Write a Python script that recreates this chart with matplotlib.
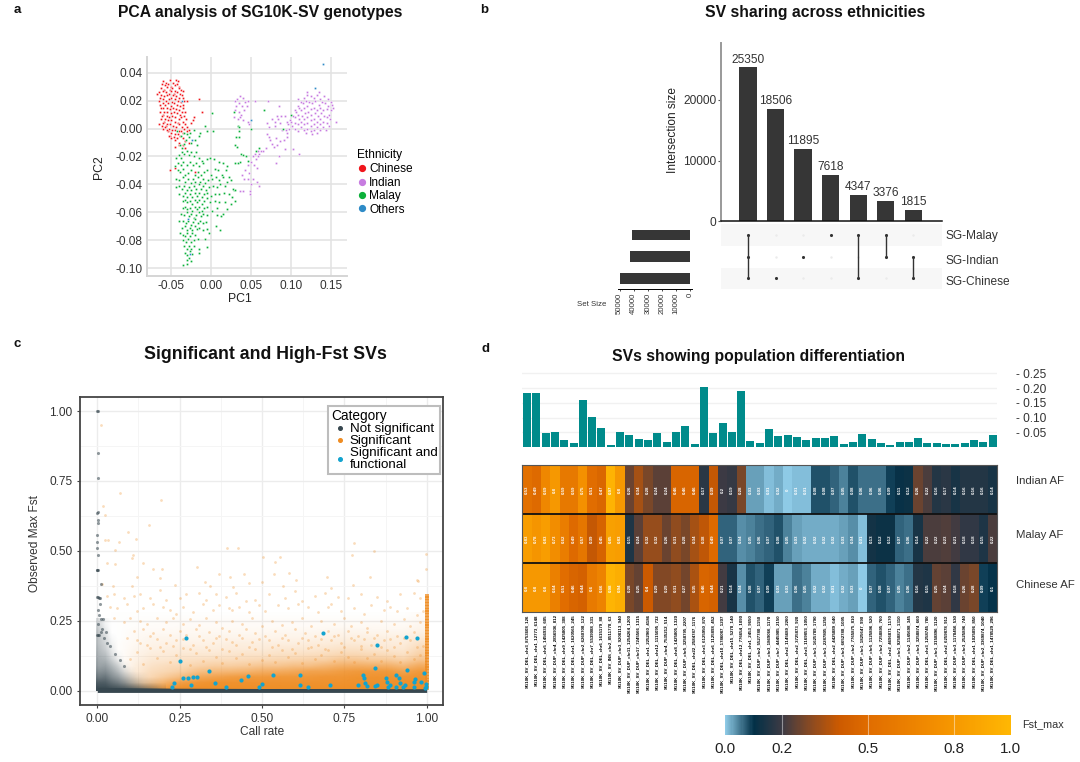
import numpy as np
import matplotlib
matplotlib.use('Agg')
import matplotlib.pyplot as plt
from matplotlib.colors import LinearSegmentedColormap
from matplotlib.lines import Line2D

plt.rcParams['font.family'] = ['Liberation Sans', 'DejaVu Sans']

W, H = 1080, 762

# panel a, PC1/PC2, in thousandths
chinese_pc = [(-60,34),(-57,33),(-52,35),(-48,33),(-44,35),(-42,34),(-62,32),(-58,31),(-54,32),(-50,30),(-46,31),(-43,32),(-40,30),
 (-63,29),(-59,28),(-56,30),(-52,28),(-49,29),(-45,27),(-41,29),(-38,28),(-66,26),(-61,27),(-57,26),(-53,25),(-50,27),(-47,25),(-43,26),(-39,25),(-36,27),
 (-68,25),(-63,24),(-59,23),(-55,24),(-51,22),(-48,24),(-44,23),(-40,22),(-37,24),(-64,22),(-60,21),(-57,20),(-53,21),(-49,19),(-46,21),(-42,20),(-38,19),(-35,22),
 (-65,20),(-61,18),(-58,17),(-54,18),(-51,16),(-47,18),(-43,17),(-39,16),(-34,20),(-31,20),(-64,17),(-60,15),(-56,15),(-52,14),(-48,15),(-44,14),(-40,13),(-36,17),
 (-63,15),(-59,12),(-55,12),(-51,11),(-47,12),(-43,11),(-39,10),(-35,15),(-64,12),(-60,10),(-56,9),(-53,8),(-49,9),(-45,8),(-41,7),(-37,12),(-33,12),
 (-62,9),(-58,7),(-54,6),(-50,6),(-46,5),(-42,4),(-38,8),(-34,9),(-63,7),(-59,5),(-55,3),(-52,3),(-48,2),(-44,1),(-40,3),(-36,5),(-32,7),
 (-61,4),(-57,2),(-53,0),(-49,-1),(-45,-1),(-41,-2),(-37,1),(-33,3),(-66,3),(-62,2),(-58,1),(-54,-2),(-50,-3),(-46,-4),(-42,-4),(-38,-2),(-34,0),
 (-31,1),(-60,0),(-56,-1),(-52,-5),(-47,-6),(-43,-7),(-39,-5),(-35,-3),(-30,-2),(-28,-1),(-53,-5),(-50,-7),(-46,-8),(-35,-7),
 (-16,21),(-22,8),(-12,12),(-23,6),(-25,4),(-52,-30),(-45,-28),(-20,-31),(-35,-12),(-28,-10),(-41,-10),(-45,-13),(-41,-12),(-33,-9),(-33,-14)]
indian_pc = [(100,10),(104,13),(108,16),(112,19),(116,22),(120,24),(124,23),(128,22),(132,24),(136,21),(141,23),(146,21),(149,19),(151,17),
 (98,6),(102,9),(106,12),(110,15),(114,18),(118,20),(122,19),(126,18),(130,20),(134,17),(138,19),(142,18),(146,16),(149,13),(152,15),
 (96,3),(100,5),(104,8),(108,10),(112,13),(116,15),(120,16),(124,14),(128,15),(132,13),(136,15),(140,13),(144,14),(147,10),
 (97,0),(101,2),(105,4),(109,7),(113,9),(117,11),(121,12),(125,10),(129,11),(133,9),(137,11),(141,9),(145,8),(148,7),
 (104,0),(108,3),(112,5),(116,7),(120,8),(124,6),(128,7),(132,5),(136,7),(140,5),(144,4),(147,2),(156,5),
 (108,-2),(112,1),(116,3),(120,4),(124,2),(128,3),(132,1),(136,3),(140,1),(143,-1),(116,-1),(120,0),(124,-2),(128,-1),(132,-3),(136,-1),(126,-4),(118,-3),
 (135,26),(119,26),(108,21),(29,20),(32,21),(36,23),(39,22),(42,19),(46,20),(31,16),(35,18),(38,16),(44,16),(30,13),(34,12),(41,13),(37,10),(28,8),(33,7),(36,8),(40,6),(47,3),(46,5),
 (55,20),(71,20),(84,16),(82,9),(83,7),(80,5),(76,7),(87,9),(92,9),(94,5),(86,4),(80,2),(70,4),(72,1),(88,-1),(93,-1),(95,-3),(70,-4),(73,-8),(72,-6),(76,-11),(78,-13),(82,-12),(86,-9),(91,-8),(95,-6),(81,-7),
 (68,-14),(65,-16),(62,-16),(60,-18),(58,-20),(56,-22),(54,-18),(52,-20),(50,-24),(53,-26),(57,-28),(46,-26),(42,-30),(47,-32),(38,-33),(41,-36),(46,-36),(52,-36),(57,-38),(59,-41),(50,-40),(48,-45),(40,-45),(36,-45),(48,-47),
 (84,-20),(81,-25),(92,-15),(102,-15),(109,-18),(58,-16)]
malay_pc = [(-43,-2),(-38,-5),(-34,-3),(-30,-4),(-27,-3),(-22,-1),(-14,-3),(-8,2),(1,11),(-5,-2),(2,-2),(-32,-8),(-28,-6),(-25,-10),(-21,-8),(-18,-12),(-16,-5),(-39,-12),(-37,-14),(-34,-11),
 (-37,-17),(-41,-19),(-44,-21),(-38,-21),(-34,-18),(-31,-16),(-28,-19),(-25,-17),(-22,-20),(-19,-17),(-16,-21),(-12,-23),(-46,-27),(-42,-25),(-38,-26),(-35,-24),(-31,-26),(-27,-24),(-23,-26),(-19,-25),(-15,-27),(-11,-25),(-6,-22),(-2,-21),(3,-22),(9,-24),(14,-25),(19,-27),
 (-42,-30),(-39,-31),(-36,-29),(-33,-33),(-29,-32),(-25,-30),(-21,-33),(-17,-31),(-13,-33),(-9,-31),(-5,-30),(-1,-33),(4,-29),(8,-30),(13,-33),(18,-30),(22,-35),
 (-44,-36),(-40,-37),(-36,-35),(-33,-38),(-29,-36),(-26,-39),(-23,-36),(-20,-38),(-17,-35),(-14,-38),(-11,-36),(-8,-39),(-4,-37),(1,-36),(6,-35),(10,-37),(15,-35),(20,-38),(24,-37),
 (-44,-42),(-41,-41),(-37,-43),(-34,-41),(-31,-44),(-28,-42),(-25,-44),(-22,-41),(-19,-43),(-16,-40),(-13,-43),(-10,-41),(-7,-44),(-3,-42),(2,-41),(7,-42),(11,-40),(17,-41),(28,-44),
 (-40,-47),(-36,-48),(-33,-46),(-30,-49),(-27,-47),(-24,-49),(-21,-46),(-18,-48),(-15,-46),(-12,-49),(-9,-47),(-5,-46),(-1,-48),(5,-47),(10,-47),(16,-46),(22,-47),
 (-36,-52),(-33,-51),(-30,-53),(-27,-52),(-24,-54),(-21,-51),(-18,-53),(-15,-51),(-12,-54),(-9,-52),(-6,-50),(-2,-53),(4,-52),(9,-53),(17,-53),(24,-54),(30,-52),
 (-36,-57),(-33,-56),(-30,-58),(-27,-57),(-24,-59),(-21,-56),(-18,-58),(-15,-56),(-12,-59),(-9,-57),(-5,-56),(1,-59),(7,-57),(15,-61),(20,-58),
 (-38,-61),(-34,-62),(-31,-60),(-28,-63),(-25,-61),(-22,-64),(-19,-62),(-16,-60),(-13,-63),(-10,-61),(-6,-62),(7,-62),(12,-63),(-40,-66),(-36,-66),(-32,-68),(-29,-66),(-26,-69),(-23,-67),(-20,-65),(-17,-68),(-14,-66),(-11,-68),(-7,-67),
 (-37,-71),(-33,-70),(-30,-73),(-27,-71),(-24,-73),(-21,-70),(-18,-72),(-15,-71),(-10,-73),(-5,-72),(6,-70),(11,-73),(-39,-75),(-36,-76),(-33,-77),(-30,-75),(-27,-77),(-24,-75),(-20,-76),(-3,-75),(-35,-80),(-32,-81),(-29,-79),(-26,-81),(-22,-80),(-17,-79),(-8,-79),
 (-34,-84),(-31,-86),(-28,-84),(-25,-86),(-22,-84),(-15,-86),(-6,-85),(-33,-89),(-30,-91),(-27,-88),(-24,-90),(-16,-89),(-31,-94),(-28,-93),(-26,-95),(-36,-98),(-30,-97),
 (33,2),(34,-2),(31,-6),(35,-6),(32,-13),(29,-12),(37,-18),(40,-19),(43,-20),(46,-23),(36,-24),(33,-25),(30,-25),(27,-43),(30,-44),(26,-49),(66,13),(99,10),(90,0),(60,-14),(56,-16),(49,0),(35,1),(28,12)]
others_pc = [(140,46),(129,29),(-37,20),(49,6),(-24,-8),(-29,-65),(-27,-90)]
ethnicity = ['Chinese', 'Indian', 'Malay', 'Others']
ethnicity_colors = ['#f0151b', '#c77ce0', '#0cb03a', '#2e8bc7']
pc_x_ticks = [-0.05, 0.00, 0.05, 0.10, 0.15]
pc_y_ticks = [0.04, 0.02, 0.00, -0.02, -0.04, -0.06, -0.08, -0.10]

# panel b
intersections = [25350, 18506, 11895, 7618, 4347, 3376, 1815]
set_names = ['SG-Malay', 'SG-Indian', 'SG-Chinese']
set_sizes = [41000, 42700, 50000]
memberships = [[0, 1, 2], [2], [1], [0], [0, 2], [0, 1], [1, 2]]

# panel c
cat_names = ['Not significant', 'Significant', 'Significant and\nfunctional']
cat_colors = ['#37474f', '#ef8c22', '#12a3cf']
orange_sparse = [(.011,.95),(.069,.708),(.194,.682),(.016,.66),(.024,.628),(.157,.591),(.092,.569),(.023,.539),(.034,.539),(.067,.53),(.117,.542),(.054,.503),(.393,.51),(.426,.51),(.78,.527),(.841,.5),(.772,.487),(.998,.489),(.109,.485),(.104,.476),(.138,.456),(.054,.453),(.028,.455),(.197,.435),(.17,.435),(.302,.443),(.502,.477),(.555,.479),(.54,.461),(.581,.422),(.535,.417),(.446,.417),(.37,.416),(.403,.408),(.998,.435),(.697,.405),(.828,.405),(.602,.396),(.97,.396),(.975,.392),(.327,.39),(.342,.374),(.5,.39),(.462,.386),(.236,.378),(.19,.402),(.12,.405),(.105,.374),(.049,.374),(.013,.381),(.776,.378),(.709,.369),(.413,.372),(.563,.374),
 (.03,.34),(.05,.345),(.08,.33),(.11,.34),(.13,.345),(.16,.33),(.19,.36),(.21,.325),(.25,.33),(.27,.345),(.31,.35),(.33,.325),(.36,.345),(.39,.335),(.42,.35),(.45,.32),(.48,.325),(.52,.345),(.57,.33),(.6,.355),(.62,.32),(.66,.34),(.69,.35),(.73,.335),(.76,.33),(.8,.345),(.85,.335),(.88,.32),(.92,.345),(.96,.35),(.98,.33),
 (.04,.3),(.06,.295),(.09,.31),(.12,.285),(.14,.295),(.17,.31),(.2,.3),(.22,.29),(.24,.275),(.26,.3),(.29,.28),(.32,.31),(.35,.29),(.37,.305),(.4,.295),(.41,.29),(.43,.3),(.46,.28),(.49,.305),(.51,.285),(.55,.305),(.58,.295),(.61,.31),(.64,.3),(.67,.28),(.7,.3),(.71,.31),(.74,.285),(.78,.295),(.81,.275),(.83,.305),(.87,.29),(.89,.3),(.91,.285),(.94,.295),(.97,.27),(.99,.285),
 (.05,.26),(.08,.245),(.1,.26),(.13,.25),(.15,.24),(.18,.26),(.21,.245),(.23,.26),(.26,.24),(.28,.255),(.31,.235),(.33,.26),(.36,.245),(.38,.225),(.41,.25),(.44,.24),(.47,.26),(.5,.23),(.53,.25),(.56,.235),(.59,.245),(.62,.26),(.65,.23),(.68,.25),(.72,.24),(.75,.26),(.77,.23),(.8,.245),(.82,.225),(.86,.25),(.9,.24),(.93,.255),(.95,.23),(.98,.245),
 (.11,.215),(.14,.22),(.17,.205),(.2,.22),(.22,.2),(.25,.215),(.27,.2),(.3,.22),(.34,.21),(.37,.195),(.4,.215),(.43,.2),(.45,.22),(.48,.205),(.51,.195),(.54,.215),(.57,.2),(.6,.22),(.63,.205),(.66,.195),(.7,.215),(.73,.2),(.76,.215),(.79,.195),(.82,.21),(.85,.2),(.88,.215),(.91,.195),(.96,.21),
 (.12,.18),(.15,.165),(.18,.185),(.21,.17),(.24,.18),(.29,.165),(.32,.18),(.35,.17),(.39,.185),(.42,.165),(.47,.175),(.52,.18),(.55,.165),(.58,.18),(.61,.17),(.64,.18),(.67,.165),(.71,.18),(.74,.17),(.78,.18),(.83,.165),(.87,.18),(.92,.17),(.95,.18),(.99,.16),
 (.09,.19),(.13,.17),(.16,.195),(.19,.155),(.23,.16),(.26,.185),(.28,.15),(.31,.195),(.33,.155),(.36,.19),(.38,.15),(.41,.175),(.44,.19),(.46,.155),(.49,.185),(.53,.155),(.56,.19),(.59,.15),(.62,.19),(.65,.155),(.68,.185),(.69,.15),(.72,.195),(.75,.155),(.77,.19),(.8,.16),(.81,.185),(.84,.19),(.86,.155),(.89,.185),(.9,.155),(.93,.19),(.97,.155),
 (.1,.112),(.12,.138),(.14,.097),(.16,.151),(.18,.118),(.2,.142),(.22,.104),(.24,.129),(.26,.153),(.28,.091),(.3,.134),(.32,.108),(.34,.147),(.36,.121),(.38,.099),(.4,.143),(.42,.116),(.44,.132),(.46,.094),(.48,.149),(.5,.111),(.52,.127),(.54,.103),(.56,.146),(.58,.119),(.6,.136),(.62,.098),(.64,.152),(.66,.114),(.68,.128),(.7,.146),(.72,.107),(.74,.137),(.76,.122),(.78,.101),(.8,.149),(.82,.117),(.84,.133),(.86,.106),(.88,.144),(.9,.124),(.92,.102),(.94,.139),(.96,.115),(.98,.128)]
# orange cloud density, estimated by eye on a 0.05 x 0.02 grid (bottom row first)
orange_cloud = np.array([
 [0,.10,.45,.75,.90,.98,.98,.98,.98,.98,.98,.98,.98,.98,.98,.98,.98,.98,.98,.98,.98],
 [0,.05,.30,.50,.70,.85,.92,.95,.95,.95,.95,.95,.95,.95,.95,.95,.96,.96,.96,.96,.96],
 [0,.03,.22,.35,.48,.60,.75,.80,.85,.88,.88,.90,.90,.90,.92,.92,.94,.94,.94,.92,.94],
 [0,.02,.18,.30,.35,.42,.55,.60,.62,.65,.70,.72,.75,.80,.80,.85,.88,.88,.88,.80,.88],
 [0,.02,.15,.25,.30,.32,.38,.42,.42,.45,.50,.50,.55,.55,.62,.68,.70,.68,.68,.60,.72],
 [0,.02,.12,.20,.22,.26,.28,.30,.30,.32,.34,.36,.38,.40,.42,.50,.50,.46,.46,.40,.52],
 [0,.02,.10,.16,.17,.20,.20,.20,.22,.24,.24,.26,.26,.28,.30,.34,.34,.32,.30,.26,.40],
 [0,.02,.08,.12,.14,.15,.15,.15,.17,.17,.17,.20,.20,.20,.22,.25,.25,.22,.20,.20,.32],
 [0,.02,.06,.10,.11,.11,.11,.12,.14,.14,.14,.14,.14,.16,.16,.18,.18,.16,.16,.16,.25],
 [0,.01,.05,.08,.08,.08,.08,.09,.09,.09,.09,.10,.10,.10,.12,.13,.13,.13,.13,.13,.18],
 [0,.01,.04,.05,.05,.06,.06,.06,.06,.06,.06,.07,.07,.07,.08,.09,.09,.08,.08,.08,.12],
 [0,.01,.02,.03,.03,.04,.04,.04,.04,.04,.04,.04,.04,.04,.05,.05,.05,.05,.05,.05,.08],
 [0,.01,.02,.02,.03,.03,.03,.03,.03,.03,.03,.03,.03,.03,.03,.03,.03,.03,.03,.03,.06],
 [0,.01,.01,.01,.01,.01,.01,.01,.01,.01,.01,.01,.01,.01,.01,.01,.01,.01,.01,.01,.03]])
orange_cloud_x = [0, 1]
orange_cloud_y = [0, 0.28]
# dark cloud density near zero call rate, 0.02 x 0.02 grid
dark_cloud = np.array([
 [.98,.98,.95,.92,.88,.80,.70,.58,.45,.32,.15],
 [.88,.88,.78,.70,.58,.42,.28,.16,.10,.05,0],
 [.72,.75,.62,.52,.36,.22,.10,.05,0,0,0],
 [.60,.62,.50,.36,.18,.06,0,0,0,0,0],
 [.50,.52,.38,.24,.06,0,0,0,0,0,0],
 [.45,.42,.26,.10,0,0,0,0,0,0,0],
 [.40,.34,.15,.03,0,0,0,0,0,0,0],
 [.36,.26,.10,0,0,0,0,0,0,0,0],
 [.32,.22,.06,0,0,0,0,0,0,0,0],
 [.30,.18,.03,0,0,0,0,0,0,0,0],
 [.28,.14,0,0,0,0,0,0,0,0,0],
 [.22,.08,0,0,0,0,0,0,0,0,0],
 [.18,.05,0,0,0,0,0,0,0,0,0]])
dark_cloud_x = [-.005, .205]
dark_cloud_y = [0, .26]
dark_band_x = [0, .25, .5, .75, 1]
dark_band_low = [-.006, -.006, -.006, -.006, -.006]
dark_band_top = [.012, .009, .008, .008, .007]
dark_sparse = [(-.002,1.0),(.001,1.0),(.002,.85),(.002,.76),(0,.635),(.001,.638),(-.001,.555),(.0,.53),(.0,.51),(.001,.485),(.002,.61),(.002,.6),(-.002,.43),(.0,.43),(.002,.432),(.012,.38),(0,.335),(.002,.335),(.004,.33),(.009,.33),(.007,.31),(.003,.29),(.005,.27),(.012,.255),(.018,.255),(.002,.24),(-.001,.2),(.002,.2),(.005,.2),(.01,.21),(.015,.22),(.025,.21),(.02,.19),(.03,.17),(.04,.16),(.055,.13),(.07,.11),(.08,.09)]
call_one_fst = [.01,.02,.03,.04,.05,.06,.07,.08,.09,.10,.11,.12,.13,.14,.15,.16,.17,.18,.19,.20,.21,.22,.23,.24,.25,.26,.27,.28,.29,.30,.31,.32,.33,.34]
blue_pts = [(.269,.187),(.686,.207),(.938,.193),(.972,.187),(.848,.163),(.252,.106),(.843,.083),(.94,.074),(.34,.069),(.993,.063),(.808,.056),(.81,.044),(.906,.056),(.616,.056),(.532,.055),(.457,.054),(.302,.05),(.29,.048),(.259,.044),(.274,.044),(.437,.039),(.916,.046),(.876,.044),(.965,.042),(.879,.032),(.358,.029),(.234,.029),(.814,.026),(.5,.024),(.616,.02),(.705,.02),(.791,.02),(.849,.02),(.919,.026),(.889,.02),(.96,.032),(.982,.032),(.998,.024),(.998,.014),(.285,.02),(.226,.012),(.391,.014),(.492,.014),(.639,.012),(.818,.017),(.843,.017),(.884,.012),(.906,.012),(.935,.02),(.96,.012),(.995,.008),(.929,.014)]

# panel d
fst_bars = [.185,.185,.049,.052,.023,.012,.160,.103,.066,.008,.052,.041,.027,.024,.046,.016,.050,.071,.009,.205,
 .046,.081,.051,.190,.020,.014,.060,.039,.042,.035,.025,.032,.032,.039,.010,.017,.045,.026,.012,.008,.017,.016,.029,.013,.015,.010,.009,.015,.025,.017,.041]
indian_af = [.53,.49,.69,.8,.59,.59,.75,.51,.47,.97,.8,.26,.34,.28,.24,.24,.46,.46,.46,.17,.39,.2,.19,.28,.03,.03,.01,.02,0,.01,.01,
 .08,.08,.07,.05,.08,.06,.06,.06,.09,.11,.12,.26,.22,.16,.17,.14,.16,.16,.16,.14]
malay_af = [.83,.78,.83,.73,.62,.49,.57,.39,.45,.85,.83,.15,.24,.32,.32,.26,.31,.28,.34,.38,.49,.07,.07,.04,.05,.06,.07,.08,.05,.03,.02,.02,.02,.02,.03,.04,.01,
 .13,.12,.12,.07,.06,.14,.22,.22,.23,.21,.18,.18,.15,.22]
chinese_af = [.8,.8,.8,.64,.51,.46,.44,.6,.66,.98,.94,.28,.25,.4,.29,.29,.31,.27,.35,.46,.44,.21,.14,.04,.08,.07,.09,.03,.03,.06,.05,.02,.02,.01,.02,.03,0,
 .07,.08,.07,.05,.06,.16,.15,.25,.24,.18,.26,.28,.09,.1]
af_rows = ['Indian AF', 'Malay AF', 'Chinese AF']
sv_labels = ['SG10K_SV_DEL_chr3_8753608_126','SG10K_SV_DEL_chr1_12773_6148','SG10K_SV_DEL_chr5_1456936_605','SG10K_SV_DUP_chr4_2856936_812',
 'SG10K_SV_DEL_chr9_1425805_308','SG10K_SV_DEL_chr1_1620565_245','SG10K_SV_DUP_chr2_6260708_122','SG10K_SV_DEL_chr7_5539088_331',
 'SG10K_SV_DEL_chr6_1615179_88','SG10K_SV_INS_chr2_8511778_63','SG10K_SV_DUP_chr3_9208113_940','SG10K_SV_DUP_chr11_1254264_1200',
 'SG10K_SV_DUP_chr17_7245566_1315','SG10K_SV_DEL_chr1_2252960_4186','SG10K_SV_DEL_chr12_1115095_732','SG10K_SV_DUP_chr4_7535212_514',
 'SG10K_SV_DEL_chr8_1425805_1320','SG10K_SV_DUP_chr5_3258795_2207','SG10K_SV_DEL_chr22_2584787_1176','SG10K_SV_DEL_chr3_6125950_870',
 'SG10K_SV_DEL_chr6_1125898_452','SG10K_SV_DEL_chr10_1786087_1207','SG10K_SV_DEL_chr15_5278_140','SG10K_SV_DEL_chr12_776654_1090',
 'SG10K_SV_DEL_chr1_2453_9650','SG10K_SV_DUP_chr2_5527780_1150','SG10K_SV_DUP_chr3_1869066_1170','SG10K_SV_DUP_chr7_4445985_2150',
 'SG10K_SV_DEL_chr2_1145689_2260','SG10K_SV_DEL_chr2_3725873_920','SG10K_SV_DEL_chr3_1169853_1050','SG10K_SV_DUP_chr1_1625789_1790',
 'SG10K_SV_DUP_chr1_2287805_1250','SG10K_SV_DEL_chr2_4425889_640','SG10K_SV_DUP_chr3_6652788_1095','SG10K_SV_DUP_chr2_7765875_810',
 'SG10K_SV_DUP_chr1_1825647_990','SG10K_SV_DUP_chr5_1125896_520','SG10K_SV_DUP_chr2_7258895_760','SG10K_SV_DEL_chr2_4696871_1170',
 'SG10K_SV_DUP_chr1_9258871_1310','SG10K_SV_DUP_chr2_1145698_345','SG10K_SV_DUP_chr3_3258874_660','SG10K_SV_DEL_chr3_1258745_780',
 'SG10K_SV_DUP_chr1_3158896_1120','SG10K_SV_DEL_chr2_6259878_912','SG10K_SV_DUP_chr3_1178456_530','SG10K_SV_DUP_chr3_2525896_740',
 'SG10K_SV_DEL_chr1_1025896_850','SG10K_SV_DUP_chr2_3369874_1040','SG10K_SV_DEL_chr1_1478529_296']
fst_ticks = [0.05, 0.10, 0.15, 0.20, 0.25]
cbar_ticks = [0.0, 0.2, 0.5, 0.8, 1.0]
cbar_labels = ['0.0', '0.2', '0.5', '0.8', '1.0']


def box(fig, left, top, right, bottom):
    return fig.add_axes([left / W, 1 - bottom / H, (right - left) / W, (bottom - top) / H])


def label(fig, x, y, s, **kw):
    kw.setdefault('ha', 'center')
    kw.setdefault('va', 'center')
    fig.text(x / W, 1 - y / H, s, **kw)


def cloud(ax, grid, xr, yr, color):
    rgba = np.zeros(grid.shape + (4,))
    rgba[..., :3] = matplotlib.colors.to_rgb(color)
    rgba[..., 3] = grid
    ax.imshow(rgba, origin='lower', extent=[xr[0], xr[1], yr[0], yr[1]], aspect='auto', interpolation='bilinear', zorder=2)


def panel_a(fig):
    ax = box(fig, 147, 57, 347, 276)
    groups = [chinese_pc, indian_pc, malay_pc, others_pc]
    for g, c, n in zip(groups, ethnicity_colors, ethnicity):
        pts = np.array(g) / 1000.0
        ax.scatter(pts[:, 0], pts[:, 1], s=3.2, color=c, edgecolors='white', linewidths=0.35, label=n, zorder=3)
    ax.set_xlim(-0.0804, 0.1696)
    ax.set_ylim(-0.1057, 0.0513)
    ax.set_xticks(pc_x_ticks)
    ax.set_xticklabels(['%.2f' % v for v in pc_x_ticks])
    ax.set_yticks(pc_y_ticks)
    ax.set_yticklabels(['%.2f' % v for v in pc_y_ticks])
    ax.grid(color='#e2e2e2', linewidth=1.1)
    ax.set_axisbelow(True)
    for s in ['top', 'right']:
        ax.spines[s].set_visible(False)
    for s in ['left', 'bottom']:
        ax.spines[s].set_color('#d5d5d5')
        ax.spines[s].set_linewidth(1.4)
    ax.tick_params(length=0, labelsize=8.6, labelcolor='#333333', pad=3)
    label(fig, 240, 299, 'PC1', fontsize=8.8, color='#222222')
    label(fig, 99, 167, 'PC2', fontsize=8.8, rotation=90, color='#222222')
    handles = [Line2D([], [], marker='o', linestyle='', markersize=4.2, color=c) for c in ethnicity_colors]
    leg = ax.legend(handles, ethnicity, title='Ethnicity', frameon=False, fontsize=8.6, title_fontsize=8.6,
                    loc='upper left', bbox_to_anchor=(1.048, 0.582), labelspacing=0.12, handletextpad=0.15,
                    borderpad=0, borderaxespad=0, handlelength=0.9)
    leg._legend_box.align = 'left'
    leg._legend_box.sep = 2
    label(fig, 260, 13, 'PCA analysis of SG10K-SV genotypes', fontsize=11.3, fontweight='bold', color='#111111')


def panel_b(fig):
    ax = box(fig, 721, 43, 941.7, 221.3)
    cols = np.arange(1, len(intersections) + 1)
    ax.bar(cols, intersections, width=0.63, color='#363636')
    for c, v in zip(cols, intersections):
        ax.text(c, v + 300, str(v), ha='center', va='bottom', fontsize=8.6, color='#333333')
    ax.set_xlim(0.018, 8.03)
    ax.set_ylim(0, 178.3 / 60.7 * 10000)
    ax.set_xticks([])
    ax.set_yticks([0, 10000, 20000])
    ax.tick_params(axis='y', length=2, labelsize=8.6, labelcolor='#333333', pad=1.5, color='#555555')
    for s in ['top', 'right']:
        ax.spines[s].set_visible(False)
    ax.spines['left'].set_color('#999999')
    ax.spines['left'].set_linewidth(1.4)
    ax.spines['bottom'].set_color('#111111')
    ax.spines['bottom'].set_linewidth(1.1)
    label(fig, 673, 130, 'Intersection size', fontsize=8.6, rotation=90, color='#222222')

    mx = box(fig, 721, 224, 941.7, 289.3)
    mx.axhspan(-0.5, 0.5, color='#f7f7f7', lw=0)
    mx.axhspan(1.5, 2.5, color='#f7f7f7', lw=0)
    for c, m in zip(cols, memberships):
        for r in range(len(set_names)):
            mx.scatter(c, r, s=3, color='#ebebeb', zorder=2, lw=0)
        mx.scatter([c] * len(m), m, s=5, color='#333333', zorder=3, lw=0)
        if len(m) > 1:
            mx.plot([c, c], [min(m), max(m)], color='#333333', linewidth=1.0, zorder=3)
    mx.set_xlim(0.018, 8.03)
    mx.set_ylim(2.5, -0.5)
    mx.axis('off')
    for y, n in zip([235.5, 261, 282], set_names):
        label(fig, 946, y, n, ha='left', fontsize=8.6, color='#333333')

    st = box(fig, 618, 224, 692, 289.3)
    st.barh(range(len(set_names)), set_sizes, height=0.48, color='#363636')
    st.set_xlim(51200, -1500)
    st.set_ylim(2.5, -0.5)
    st.set_yticks([])
    st.set_xticks([0, 10000, 20000, 30000, 40000, 50000])
    st.tick_params(axis='x', labelrotation=90, labelsize=5.6, length=1.5, pad=1, labelcolor='#333333', width=0.5)
    for s in ['top', 'right', 'left']:
        st.spines[s].set_visible(False)
    st.spines['bottom'].set_linewidth(0.7)
    label(fig, 592, 305, 'Set Size', fontsize=5.6, color='#333333')
    label(fig, 815, 13, 'SV sharing across ethnicities', fontsize=11.3, fontweight='bold', color='#111111')


def panel_c(fig):
    ax = box(fig, 80.3, 397.3, 443, 705)
    ax.set_xlim(-0.0516, 1.0495)
    ax.set_ylim(-0.051, 1.049)
    ax.set_xticks([0, .25, .5, .75, 1])
    ax.set_xticklabels(['0.00', '0.25', '0.50', '0.75', '1.00'])
    ax.set_yticks([0, .25, .5, .75, 1])
    ax.set_yticklabels(['0.00', '0.25', '0.50', '0.75', '1.00'])
    ax.set_xticks([.125, .375, .625, .875], minor=True)
    ax.set_yticks([.125, .375, .625, .875], minor=True)
    ax.grid(which='major', color='#ececec', linewidth=1.0)
    ax.grid(which='minor', color='#f5f5f5', linewidth=0.7)
    ax.set_axisbelow(True)
    ax.tick_params(which='minor', length=0)
    ax.tick_params(which='major', length=2, labelsize=8.6, labelcolor='#333333', color='#444444')

    cloud(ax, orange_cloud, orange_cloud_x, orange_cloud_y, cat_colors[1])
    o = np.array(orange_sparse)
    ax.scatter(o[:, 0], o[:, 1], s=4, color=cat_colors[1], alpha=0.3, lw=0, zorder=3)
    ax.scatter([1] * len(call_one_fst), call_one_fst, s=5, marker='s', color=cat_colors[1], alpha=0.75, lw=0, zorder=3)
    cloud(ax, dark_cloud, dark_cloud_x, dark_cloud_y, cat_colors[0])
    ax.fill_between(dark_band_x, dark_band_low, dark_band_top, color=cat_colors[0], lw=0, zorder=4)
    d = np.array(dark_sparse)
    ax.scatter(d[:, 0], d[:, 1], s=5, color=cat_colors[0], alpha=0.55, lw=0, zorder=4)
    b = np.array(blue_pts)
    ax.scatter(b[:, 0], b[:, 1], s=9, color=cat_colors[2], lw=0, zorder=5)
    ax.set_xlim(-0.0516, 1.0495)
    ax.set_ylim(-0.051, 1.049)
    for s in ax.spines.values():
        s.set_color('#444444')
        s.set_linewidth(1.3)
    label(fig, 262, 732, 'Call rate', fontsize=8.6, color='#333333')
    label(fig, 35, 543, 'Observed Max Fst', fontsize=8.6, rotation=90, color='#333333')
    handles = [Line2D([], [], marker='o', linestyle='', markersize=2.6, color=c) for c in cat_colors]
    leg = ax.legend(handles, cat_names, title='Category', fontsize=9.6, title_fontsize=9.8, loc='upper right',
                    bbox_to_anchor=(0.9915, 0.9705), borderaxespad=0, labelspacing=-0.02, handletextpad=0.1,
                    handlelength=1.3, borderpad=0.2, fancybox=False, framealpha=1, edgecolor='#bdbdbd')
    leg.get_frame().set_linewidth(1.5)
    leg._legend_box.align = 'left'
    leg._legend_box.sep = 0
    for t in leg.get_texts():
        t.set_linespacing(1.0)
    label(fig, 265, 354, 'Significant and High-Fst SVs', fontsize=12.8, fontweight='bold', color='#111111')


def panel_d(fig):
    ax = box(fig, 522.3, 370, 997.3, 447)
    x = np.arange(len(fst_bars))
    ax.bar(x, fst_bars, width=0.86, color='#008b8b', zorder=3)
    ax.set_xlim(-0.5, len(fst_bars) - 0.5)
    ax.set_ylim(0, 77 / 294)
    ax.set_xticks([])
    ax.set_yticks(fst_ticks)
    ax.set_yticklabels(['- %.2f' % v for v in fst_ticks])
    ax.yaxis.tick_right()
    ax.tick_params(axis='y', length=0, pad=13.5, labelsize=8.6, labelcolor='#333333')
    ax.grid(axis='y', color='#f1f1f1', linewidth=1.0, zorder=0)
    for s in ax.spines.values():
        s.set_visible(False)

    cmap = LinearSegmentedColormap.from_list('fst', [(0, '#8ecae6'), (0.1, '#023047'), (0.2, '#3c3a44'), (0.3, '#8a4a22'),
                                                    (0.4, '#cc5a00'), (0.5, '#e06c00'), (0.75, '#f49000'), (1, '#ffb703')])
    hm = box(fig, 522.3, 465, 997.3, 612.3)
    rows = [indian_af, malay_af, chinese_af]
    mesh = hm.pcolormesh(np.arange(len(x) + 1) - 0.5, np.arange(4) - 0.5, np.array(rows), cmap=cmap, vmin=0, vmax=1)
    for r, vals in enumerate(rows):
        for c, v in enumerate(vals):
            hm.text(c, r, '%g' % v, color='white', fontsize=3.2, rotation=90, ha='center', va='center', fontweight='bold')
    hm.set_ylim(2.5, -0.5)
    hm.set_yticks([])
    hm.set_xticks(x)
    hm.set_xticklabels(sv_labels, rotation=90, fontsize=3.2, fontweight='bold', color='#000000')
    hm.tick_params(axis='x', length=0, pad=1.5)
    hm.axhline(0.5, color='#111111', linewidth=1.3)
    hm.axhline(1.5, color='#111111', linewidth=1.3)
    for s in hm.spines.values():
        s.set_color('#555555')
        s.set_linewidth(0.8)
    for y, n in zip([481, 535, 585], af_rows):
        label(fig, 1016, y, n, ha='left', fontsize=8.2, color='#333333')

    cax = box(fig, 724.7, 715.3, 1010.7, 734.7)
    cb = fig.colorbar(mesh, cax=cax, orientation='horizontal')
    cb.set_ticks(cbar_ticks)
    cb.set_ticklabels(cbar_labels)
    cb.outline.set_visible(False)
    cax.tick_params(length=0, labelsize=11, pad=5.5, labelcolor='#222222')
    for t in cbar_ticks[1:-1]:
        cax.axvline(t, color='white', alpha=0.45, linewidth=0.8)
    label(fig, 1022, 724, 'Fst_max', ha='left', fontsize=7.8, color='#333333')
    label(fig, 758, 356, 'SVs showing population differentiation', fontsize=11.3, fontweight='bold', color='#111111')


def main():
    fig = plt.figure(figsize=(W / 100, H / 100), dpi=100)
    panel_a(fig)
    panel_b(fig)
    panel_c(fig)
    panel_d(fig)
    for x, y, s in [(17, 10, 'a'), (484, 10, 'b'), (17, 344, 'c'), (485, 349, 'd')]:
        label(fig, x, y, s, fontsize=9.5, fontweight='bold', color='#111111')
    fig.savefig('out.png', dpi=100)


if __name__ == "__main__":
    main()
